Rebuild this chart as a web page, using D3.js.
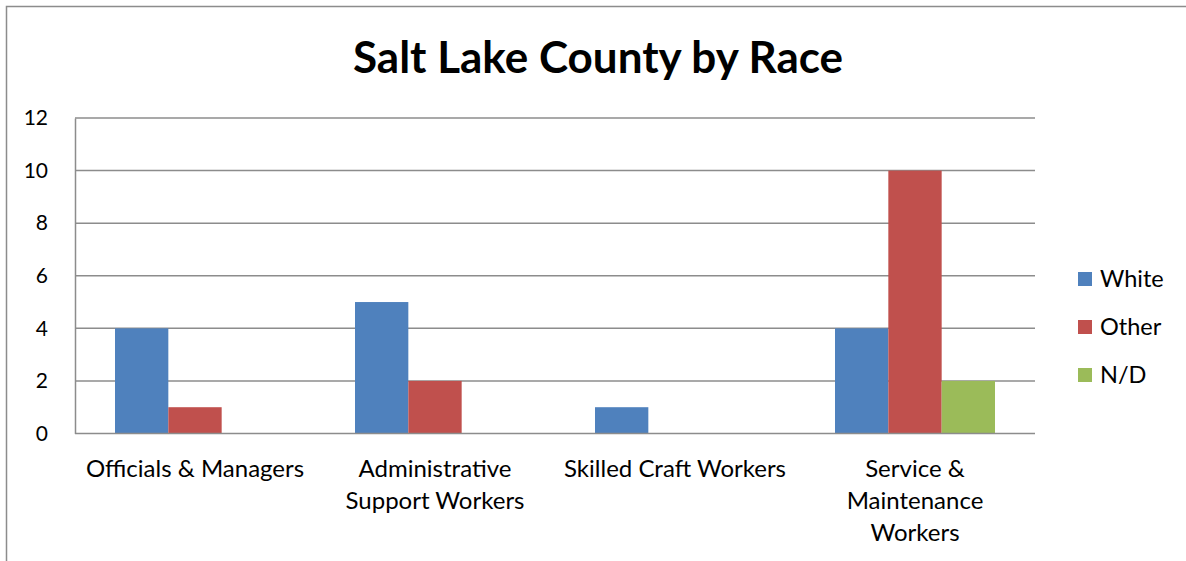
<!DOCTYPE html>
<html>
<head>
<meta charset="utf-8">
<script src="https://cdn.jsdelivr.net/npm/d3@7"></script>
<style>
  html, body { margin: 0; padding: 0; background: #fff; }
  svg { display: block; font-family: Lato, "Open Sans", sans-serif; }
</style>
</head>
<body>
<svg id="chart" width="1186" height="561"></svg>
<script>
// Employee counts by job category and race
const categories = [
  ["Officials & Managers"],
  ["Administrative", "Support Workers"],
  ["Skilled Craft Workers"],
  ["Service &", "Maintenance", "Workers"]
];
const seriesNames = ["White", "Other", "N/D"];
const white = [4, 5, 1, 4];
const other = [1, 2, 0, 10];
const nd    = [0, 0, 0, 2];
const yTicks = [0, 2, 4, 6, 8, 10, 12];
const colors = ["#4F81BD", "#C0504D", "#9BBB59"];

const seriesValues = [white, other, nd];
const svg = d3.select("#chart");

// outer frame
svg.append("path")
  .attr("d", "M6.5,561 V6.5 H1186")
  .attr("fill", "none").attr("stroke", "#8c8c8c").attr("stroke-width", 1.5);

const plot = { left: 75, right: 1035, top: 118, bottom: 433.5 };

const x0 = d3.scaleBand()
  .domain(d3.range(categories.length))
  .range([plot.left, plot.right]);
const x1 = d3.scaleBand()
  .domain(seriesNames)
  .range([0, x0.bandwidth() * 160 / 240]);
const groupPad = (x0.bandwidth() - x1.range()[1]) / 2;

const y = d3.scaleLinear().domain([0, 12]).range([plot.bottom, plot.top]);

// title
svg.append("text")
  .attr("x", 598).attr("y", 73)
  .attr("text-anchor", "middle")
  .attr("font-size", 44).attr("font-weight", "bold")
  .attr("fill", "#000")
  .text("Salt Lake County by Race");

// gridlines
svg.append("g")
  .selectAll("line")
  .data(yTicks.filter(t => t > 0))
  .join("line")
  .attr("x1", plot.left).attr("x2", plot.right)
  .attr("y1", d => y(d)).attr("y2", d => y(d))
  .attr("stroke", "#8c8c8c").attr("stroke-width", 1.5);

// y axis
const yAxis = svg.append("g")
  .attr("transform", `translate(${plot.left},0)`)
  .call(d3.axisLeft(y).tickValues(yTicks).tickSize(0).tickPadding(27));
yAxis.select(".domain").attr("stroke", "#8c8c8c").attr("stroke-width", 1.5);
yAxis.selectAll("text").attr("font-size", 21).attr("fill", "#000")
  .attr("font-family", "Lato, 'Open Sans', sans-serif");

// bars
const groups = svg.append("g")
  .selectAll("g")
  .data(categories.map((c, i) => i))
  .join("g")
  .attr("transform", i => `translate(${x0(i) + groupPad},0)`);

groups.selectAll("rect")
  .data(i => seriesNames.map((s, k) => ({ s, k, v: seriesValues[k][i] })))
  .join("rect")
  .filter(d => d.v > 0)
  .attr("x", d => x1(d.s))
  .attr("width", x1.bandwidth())
  .attr("y", d => y(d.v))
  .attr("height", d => y(0) - y(d.v))
  .attr("fill", d => colors[d.k]);

// x axis baseline
svg.append("line")
  .attr("x1", plot.left).attr("x2", plot.right)
  .attr("y1", plot.bottom).attr("y2", plot.bottom)
  .attr("stroke", "#8c8c8c").attr("stroke-width", 1.5);

// category labels
svg.append("g")
  .selectAll("text")
  .data(categories.map((lines, i) => ({ lines, i })))
  .join("text")
  .attr("text-anchor", "middle")
  .attr("font-size", 24).attr("fill", "#000")
  .each(function (d) {
    d3.select(this).selectAll("tspan")
      .data(d.lines)
      .join("tspan")
      .attr("x", x0(d.i) + x0.bandwidth() / 2)
      .attr("y", (l, j) => 477 + j * 32)
      .text(l => l);
  });

// legend
const legend = svg.append("g")
  .selectAll("g")
  .data(seriesNames)
  .join("g")
  .attr("transform", (d, i) => `translate(1078,${279 + i * 48})`);
legend.append("rect")
  .attr("x", 0).attr("y", -7).attr("width", 14).attr("height", 14)
  .attr("fill", (d, i) => colors[i]);
legend.append("text")
  .attr("x", 22).attr("y", 8)
  .attr("font-size", 23.5).attr("fill", "#000")
  .text(d => d);
</script>
</body>
</html>
